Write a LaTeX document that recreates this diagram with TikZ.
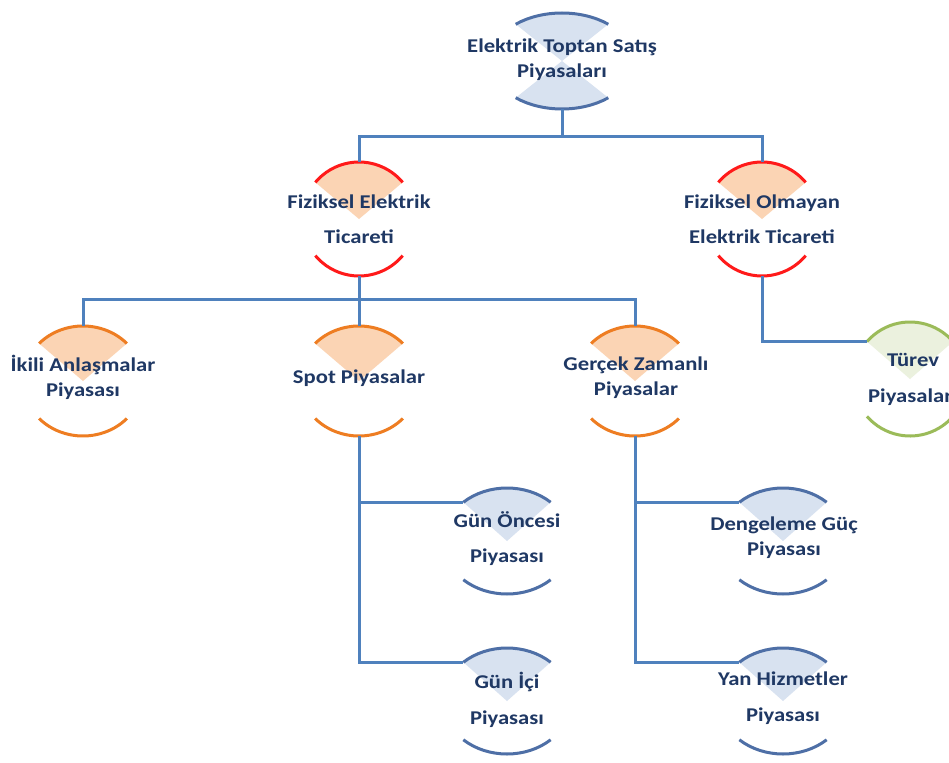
\documentclass[tikz,border=0pt]{standalone}
\usepackage{fontspec}
\setmainfont{Carlito}
\newfontfamily\lblwide{Carlito}[FakeStretch=1.16]
\usetikzlibrary{calc,backgrounds}

\definecolor{navy}{HTML}{1F3864}
\definecolor{connblue}{HTML}{4F81BD}
\definecolor{rimblue}{HTML}{4E6FA6}
\definecolor{lightblue}{HTML}{D8E2F0}
\definecolor{rimred}{HTML}{FF1A1A}
\definecolor{rimorange}{HTML}{EE7D22}
\definecolor{peach}{HTML}{FBD4B4}
\definecolor{rimgreen}{HTML}{9BBB59}
\definecolor{lightgreen}{HTML}{EBF1DE}

\tikzset{
  lbl/.style={text=navy, align=center, inner sep=0pt,
    font={\lblwide\bfseries\fontsize{19.5}{25}\selectfont}},
  lblloose/.style={lbl, font={\lblwide\bfseries\fontsize{19.5}{35.5}\selectfont}},
  conn/.style={draw=connblue, line width=3pt},
  rim/.style={line width=3pt},
}

% #1 name, #2 x, #3 row, #4 x radius, #5 y radius, #6 half-opening angle, #7 rim colour, #8 fill colour
\newcommand\bubble[8]{%
  \coordinate (#1-c) at (#2,-#3);
  \coordinate (#1-t) at (#2,{-#3+#5});
  \coordinate (#1-b) at (#2,{-#3-#5});
  \coordinate (#1-l) at ({#2-#4*cos(#6)},{-#3+#5*sin(#6)});
  \fill[#8] (#1-c) -- ++(#6:#4pt and #5pt)
    arc[start angle=#6, end angle={180-#6}, x radius=#4pt, y radius=#5pt] -- cycle;
  \draw[rim,#7] (#1-c) ++(#6:#4pt and #5pt)
    arc[start angle=#6, end angle={180-#6}, x radius=#4pt, y radius=#5pt];
  \draw[rim,#7] (#1-c) ++(-#6:#4pt and #5pt)
    arc[start angle=-#6, end angle={-180+#6}, x radius=#4pt, y radius=#5pt];
}

\begin{document}
\begin{tikzpicture}[x=1pt, y=1pt]
  \clip (0,0) rectangle (949,-762);
  \fill[white] (0,0) rectangle (949,-762);

  % circles
  \fill[lightblue] (562,-61) -- ++(-50:72pt and 48pt)
    arc[start angle=-50, end angle=-130, x radius=72pt, y radius=48pt] -- cycle;
  \bubble{root}{562}{61}{72}{48}{50}{rimblue}{lightblue}
  \bubble{fiz}{359}{219}{57}{57}{40}{rimred}{peach}
  \bubble{fizo}{762}{219}{57}{57}{40}{rimred}{peach}
  \bubble{ikili}{83}{381}{60}{55}{43}{rimorange}{peach}
  \bubble{spot}{359}{381}{60}{55}{43}{rimorange}{peach}
  \bubble{gercek}{635}{381}{60}{55}{43}{rimorange}{peach}
  \bubble{turev}{910}{379}{57}{57}{41}{rimgreen}{lightgreen}
  \bubble{gunon}{507}{541}{64}{53}{47}{rimblue}{lightblue}
  \bubble{deng}{783}{541}{64}{53}{47}{rimblue}{lightblue}
  \bubble{gunici}{507}{701}{64}{53}{47}{rimblue}{lightblue}
  \bubble{yan}{783}{701}{64}{53}{47}{rimblue}{lightblue}

  % labels
  \node[lbl] (root) at (562,-59.5) {Elektrik Toptan Satış\\Piyasaları};
  \node[lblloose] (fiz) at (359,-219) {Fiziksel Elektrik\\Ticareti};
  \node[lblloose] (fizo) at (762,-219) {Fiziksel Olmayan\\Elektrik Ticareti};
  \node[lbl] (ikili) at (83,-377.5) {İkili Anlaşmalar\\Piyasası};
  \node[lbl] (spot) at (359,-378) {Spot Piyasalar};
  \node[lbl] (gercek) at (636,-377.5) {Gerçek Zamanlı\\Piyasalar};
  \node[lblloose] (turev) at (913,-379.5) {Türev\\Piyasaları};
  \node[lblloose] (gunon) at (507,-538.5) {Gün Öncesi\\Piyasası};
  \node[lbl] (deng) at (784,-537.5) {Dengeleme Güç\\Piyasası};
  \node[lblloose] (gunici) at (507,-700) {Gün İçi\\Piyasası};
  \node[lblloose] (yan) at (783,-698) {Yan Hizmetler\\Piyasası};

  % connectors
  \coordinate (bus1) at (562,-137);
  \coordinate (bus2) at (359,-299);
  \draw[conn] (root-b) -- (bus1) -| (fiz-t);
  \draw[conn] (bus1) -| (fizo-t);
  \draw[conn] (fiz-b) -- (bus2) -| (ikili-t);
  \draw[conn] (bus2) -- (spot-t);
  \draw[conn] (bus2) -| (gercek-t);
  \draw[conn] (fizo-b) |- (turev-l);
  \draw[conn] (spot-b) |- (gunon-l);
  \draw[conn] (spot-b) |- (gunici-l);
  \draw[conn] (gercek-b) |- (deng-l);
  \draw[conn] (gercek-b) |- (yan-l);
\end{tikzpicture}
\end{document}
